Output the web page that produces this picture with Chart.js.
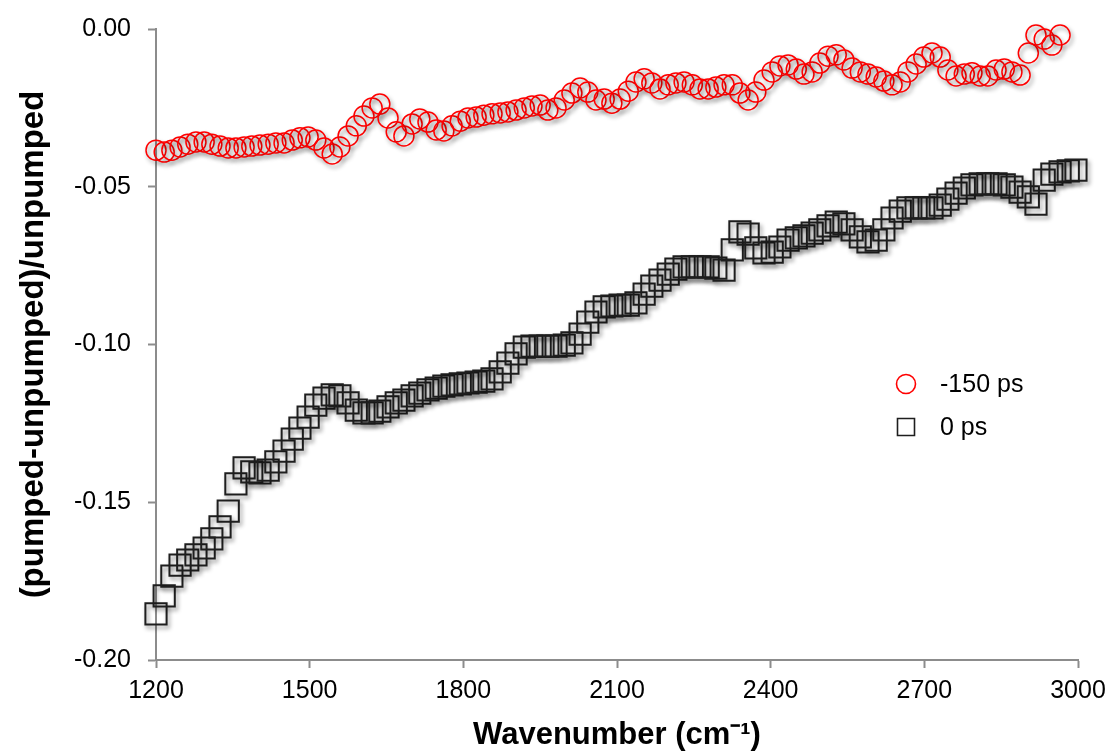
<!DOCTYPE html>
<html>
<head>
<meta charset="utf-8">
<script src="https://cdn.jsdelivr.net/npm/chart.js@4.4.1/dist/chart.umd.min.js"></script>
<style>
  html, body { margin: 0; padding: 0; background: #fff; }
</style>
</head>
<body>
<canvas id="myChart" width="1110" height="751"></canvas>
<script>
// wavenumbers (cm-1), shared by both delays
var wavenumber = [
  1200, 1216, 1231, 1247, 1262, 1278, 1294, 1309, 1325, 1341,
  1356, 1372, 1387, 1403, 1419, 1434, 1450, 1466, 1481, 1497,
  1512, 1528, 1544, 1559, 1575, 1591, 1606, 1622, 1637, 1653,
  1669, 1684, 1700, 1715, 1731, 1747, 1762, 1778, 1794, 1809,
  1825, 1840, 1856, 1872, 1887, 1903, 1919, 1934, 1950, 1965,
  1981, 1997, 2012, 2028, 2043, 2059, 2075, 2090, 2106, 2122,
  2137, 2153, 2168, 2184, 2200, 2215, 2231, 2247, 2262, 2278,
  2293, 2309, 2325, 2340, 2356, 2371, 2387, 2403, 2418, 2434,
  2450, 2465, 2481, 2496, 2512, 2528, 2543, 2559, 2575, 2590,
  2606, 2621, 2637, 2653, 2668, 2684, 2699, 2715, 2731, 2746,
  2762, 2778, 2793, 2809, 2824, 2840, 2856, 2871, 2887, 2903,
  2918, 2934, 2949, 2965, 2981, 2996
];

// -150 ps
var ps150 = [
  -0.0384, -0.0390, -0.0384, -0.0374, -0.0365, -0.0358, -0.0358, -0.0365, -0.0371, -0.0377,
  -0.0377, -0.0374, -0.0371, -0.0368, -0.0365, -0.0361, -0.0361, -0.0352, -0.0345, -0.0342,
  -0.0352, -0.0377, -0.0396, -0.0374, -0.0339, -0.0307, -0.0276, -0.0250, -0.0238, -0.0282,
  -0.0326, -0.0339, -0.0301, -0.0285, -0.0295, -0.0320, -0.0323, -0.0307, -0.0292, -0.0282,
  -0.0279, -0.0273, -0.0269, -0.0266, -0.0263, -0.0257, -0.0250, -0.0244, -0.0241, -0.0257,
  -0.0250, -0.0225, -0.0203, -0.0187, -0.0200, -0.0225, -0.0222, -0.0235, -0.0222, -0.0197,
  -0.0168, -0.0158, -0.0171, -0.0190, -0.0177, -0.0171, -0.0168, -0.0177, -0.0190, -0.0190,
  -0.0184, -0.0177, -0.0177, -0.0203, -0.0225, -0.0200, -0.0162, -0.0136, -0.0117, -0.0114,
  -0.0127, -0.0143, -0.0136, -0.0108, -0.0086, -0.0082, -0.0098, -0.0124, -0.0136, -0.0143,
  -0.0152, -0.0165, -0.0177, -0.0168, -0.0136, -0.0111, -0.0089, -0.0076, -0.0089, -0.0130,
  -0.0149, -0.0143, -0.0139, -0.0149, -0.0149, -0.0130, -0.0127, -0.0136, -0.0146, -0.0076,
  -0.0019, -0.0032, -0.0051, -0.0019
];

// 0 ps
var ps0 = [
  -0.1854, -0.1797, -0.1734, -0.1699, -0.1683, -0.1667, -0.1645, -0.1616, -0.1578, -0.1528,
  -0.1442, -0.1391, -0.1404, -0.1407, -0.1398, -0.1372, -0.1338, -0.1300, -0.1265, -0.1230,
  -0.1192, -0.1170, -0.1160, -0.1163, -0.1185, -0.1208, -0.1217, -0.1217, -0.1211, -0.1198,
  -0.1185, -0.1176, -0.1163, -0.1154, -0.1144, -0.1138, -0.1132, -0.1128, -0.1125, -0.1122,
  -0.1119, -0.1116, -0.1109, -0.1087, -0.1059, -0.1030, -0.1008, -0.1005, -0.1005, -0.1005,
  -0.1005, -0.1002, -0.0995, -0.0967, -0.0929, -0.0897, -0.0881, -0.0878, -0.0875, -0.0875,
  -0.0868, -0.0840, -0.0815, -0.0796, -0.0777, -0.0761, -0.0754, -0.0754, -0.0754, -0.0754,
  -0.0758, -0.0764, -0.0700, -0.0643, -0.0650, -0.0694, -0.0710, -0.0707, -0.0691, -0.0669,
  -0.0662, -0.0656, -0.0647, -0.0637, -0.0624, -0.0612, -0.0618, -0.0637, -0.0659, -0.0675,
  -0.0669, -0.0637, -0.0599, -0.0577, -0.0567, -0.0567, -0.0567, -0.0567, -0.0558, -0.0539,
  -0.0520, -0.0504, -0.0494, -0.0491, -0.0491, -0.0491, -0.0494, -0.0501, -0.0517, -0.0532,
  -0.0555, -0.0479, -0.0460, -0.0453, -0.0450, -0.0447
];

var seriesNames = ["-150 ps", "0 ps"];

var fontFam = '"Liberation Sans", Arial, sans-serif';
var axisGrey = "#8c8c8c";

function toPoints(ys) {
    var pts = [];
    for (let i = 0; i < ys.length; i++) {
        pts.push({ x: wavenumber[i], y: ys[i] });
    }
    return pts;
}

// soft drop shadow under the markers, like the original
var shadowPlugin = {
    id: "markerShadow",
    beforeDatasetsDraw(chart) {
        let c = chart.ctx;
        c.save();
        c.shadowColor = "rgba(0,0,0,0.45)";
        c.shadowBlur = 4;
        c.shadowOffsetX = 2;
        c.shadowOffsetY = 3;
    },
    afterDatasetsDraw(chart) {
        chart.ctx.restore();
    },
};

// legend sits inside the plot, right side
var insideLegend = {
    id: "insideLegend",
    afterDraw(chart) {
        let c = chart.ctx;
        let area = chart.chartArea;
        let x0 = area.right - 172;
        let y0 = area.top + 355;
        let rowGap = 43;
        c.save();
        c.font = "25px " + fontFam;
        c.textBaseline = "middle";
        c.textAlign = "left";
        chart.data.datasets.forEach((ds, i) => {
            let y = y0 + i * rowGap;
            c.strokeStyle = ds.borderColor;
            c.lineWidth = 1.6;
            c.beginPath();
            if (ds.pointStyle === "circle") {
                c.arc(x0, y, 9.5, 0, Math.PI * 2);
            } else {
                c.rect(x0 - 8.5, y - 8.5, 17, 17);
            }
            c.stroke();
            c.fillStyle = "#000";
            c.fillText(ds.label, x0 + 34, y + 1);
        });
        c.restore();
    },
};

var chartData = {
    datasets: [
        {
            label: seriesNames[0],
            data: toPoints(ps150),
            pointStyle: "circle",
            pointRadius: 10,
            borderColor: "#ff0000",
            backgroundColor: "rgba(0,0,0,0)",
            borderWidth: 1.5,
            showLine: false,
            clip: false,
        },
        {
            label: seriesNames[1],
            data: toPoints(ps0),
            pointStyle: "rect",
            pointRadius: 15,
            borderColor: "#1e1e1e",
            backgroundColor: "rgba(0,0,0,0)",
            borderWidth: 2,
            showLine: false,
            clip: false,
        },
    ],
};

const config = {
    type: "scatter",
    data: chartData,
    options: {
        responsive: false,
        animation: false,
        layout: { padding: { left: 0, right: 32, top: 29, bottom: 0 } },
        plugins: {
            legend: { display: false },
            tooltip: { enabled: false },
        },
        scales: {
            x: {
                type: "linear",
                min: 1200,
                max: 3000,
                ticks: {
                    stepSize: 300,
                    color: "#000",
                    padding: 4,
                    font: { family: fontFam, size: 25, lineHeight: 1.52 },
                    callback: (v) => String(v),
                },
                grid: {
                    drawOnChartArea: false,
                    drawTicks: true,
                    tickLength: 8,
                    tickWidth: 2,
                    tickColor: axisGrey,
                },
                border: { color: axisGrey, width: 2 },
                title: {
                    display: true,
                    text: "Wavenumber (cm\u207B\u00B9)",
                    color: "#000",
                    font: { family: fontFam, size: 31, weight: "bold", lineHeight: 1 },
                    padding: { top: 0, bottom: 0 },
                },
                afterFit(scale) {
                    scale.height = 91;
                },
            },
            y: {
                type: "linear",
                min: -0.2,
                max: 0,
                ticks: {
                    stepSize: 0.05,
                    color: "#000",
                    padding: 17,
                    font: { family: fontFam, size: 25, lineHeight: 0.96 },
                    callback: (v) => (Math.abs(v) < 1e-9 ? "0.00" : v.toFixed(2)),
                },
                grid: {
                    drawOnChartArea: false,
                    drawTicks: true,
                    tickLength: 8,
                    tickWidth: 2,
                    tickColor: axisGrey,
                },
                border: { color: axisGrey, width: 2 },
                title: {
                    display: true,
                    text: "(pumped-unpumped)/unpumped",
                    color: "#000",
                    font: { family: fontFam, size: 33, weight: "bold", lineHeight: 1 },
                    padding: { top: 17, bottom: 0 },
                },
                afterFit(scale) {
                    scale.width = 156;
                },
            },
        },
    },
    plugins: [shadowPlugin, insideLegend],
};

var myChart = new Chart(document.getElementById("myChart"), config);
</script>
</body>
</html>
